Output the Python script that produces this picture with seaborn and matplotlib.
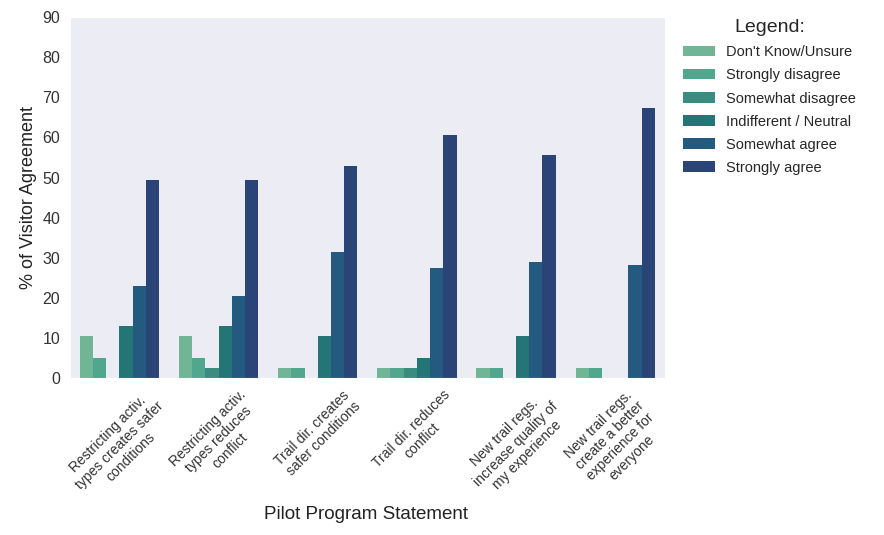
import matplotlib
matplotlib.use("Agg")
import matplotlib.pyplot as plt
import seaborn as sns
import pandas as pd

statements = [
    "Restricting activ.\ntypes creates safer\nconditions",
    "Restricting activ.\ntypes reduces\nconflict",
    "Trail dir. creates\nsafer conditions",
    "Trail dir. reduces\nconflict",
    "New trail regs.\nincrease quality of\nmy experience",
    "New trail regs.\ncreate a better\nexperience for\neveryone",
]
responses = [
    "Don't Know/Unsure",
    "Strongly disagree",
    "Somewhat disagree",
    "Indifferent / Neutral",
    "Somewhat agree",
    "Strongly agree",
]
# % per statement, one list per response
dont_know = [10.5, 10.5, 2.5, 2.5, 2.5, 2.5]
strongly_disagree = [5, 5, 2.5, 2.5, 2.5, 2.5]
somewhat_disagree = [0, 2.5, 0, 2.5, 0, 0]
neutral = [13, 13, 10.5, 5, 10.5, 0]
somewhat_agree = [23, 20.5, 31.5, 27.5, 29, 28.3]
strongly_agree = [49.3, 49.3, 53, 60.5, 55.6, 67.3]

series = [dont_know, strongly_disagree, somewhat_disagree, neutral,
          somewhat_agree, strongly_agree]

rows = []
for resp, vals in zip(responses, series):
    for st, v in zip(statements, vals):
        rows.append({"statement": st, "response": resp, "pct": v})
df = pd.DataFrame(rows)

colors = ["#6fb596", "#51a78d", "#3a8c81", "#237675", "#255a80", "#2b4477"]

sns.set_style("dark", {"axes.facecolor": "#ececf4"})
plt.rcParams["font.family"] = ["Liberation Sans", "DejaVu Sans"]

fig = plt.figure(figsize=(8.84, 5.35), dpi=100)
ax = fig.add_axes([0.079, 0.293, 0.673, 0.675])

sns.barplot(data=df, x="statement", y="pct", hue="response",
            hue_order=responses, palette=colors, ax=ax, saturation=1,
            linewidth=0, edgecolor="none")

ax.set_ylim(0, 90)
ax.set_yticks(range(0, 91, 10))
ax.tick_params(axis="y", labelsize=11.5, colors="#333333")
ax.tick_params(axis="x", labelsize=10, colors="#333333")
plt.setp(ax.get_xticklabels(), rotation=45, linespacing=1.15)
ax.set_xlabel("Pilot Program Statement", fontsize=13.5, color="#222222")
ax.xaxis.set_label_coords(0.497, -0.355)
ax.set_ylabel("% of Visitor Agreement", fontsize=13, color="#222222")

leg = ax.legend(title="Legend:", loc="upper left", bbox_to_anchor=(1.008, 1.03),
                frameon=False, fontsize=10.5, title_fontsize=14,
                handlelength=2.2, labelspacing=0.62)

fig.savefig("out.png", dpi=100)
